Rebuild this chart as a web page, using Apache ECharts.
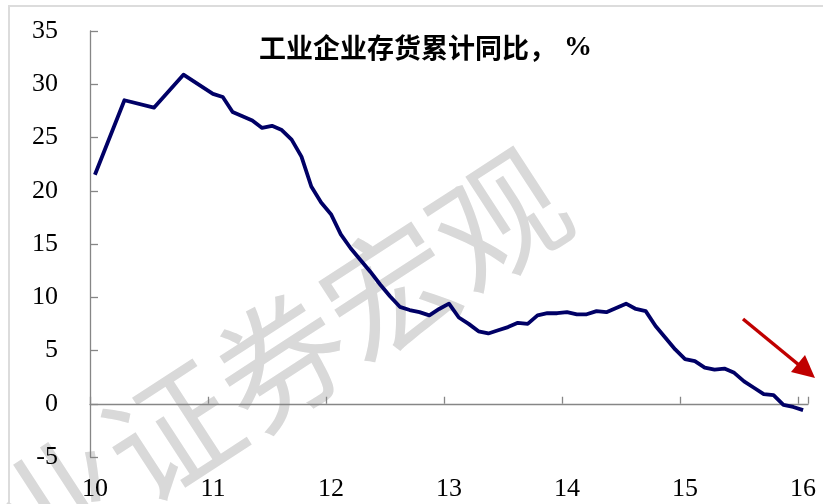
<!DOCTYPE html>
<html>
<head>
<meta charset="utf-8">
<script src="https://cdn.jsdelivr.net/npm/echarts@6/dist/echarts.min.js"></script>
<style>
  html, body { margin: 0; padding: 0; background: #fff; }
  #chart { width: 823px; height: 504px; }
</style>
</head>
<body>
<div id="chart"></div>
<script>
// 月份：2010-02 起，到 2016-02，共 73 个类目
var startYear = 2010, startMonth = 2, monthCount = 73;
var months = [];
for (var i = 0; i < monthCount; i++) {
  var m = startMonth - 1 + i;
  var y = startYear + Math.floor(m / 12);
  var mm = (m % 12) + 1;
  months.push(y + "-" + (mm < 10 ? "0" + mm : mm));
}

// 工业企业存货累计同比，%（2010 年只有 2、5、8、11 月）
var inventoryYoY = [
  21.5, null, null, 28.5, null, null, 27.8, null, null, 30.9, null, null,
  29.1, 28.8, 27.4, 27.0, 26.6, 25.9, 26.1, 25.7, 24.8, 23.2, 20.4, 18.9,
  17.8, 15.9, 14.6, 13.5, 12.4, 11.2, 10.1, 9.1, 8.8, 8.6, 8.3, 8.9,
  9.4, 8.1, 7.5, 6.8, 6.6, 6.9, 7.2, 7.6, 7.5, 8.3, 8.5, 8.5,
  8.6, 8.4, 8.4, 8.7, 8.6, 9.0, 9.4, 8.9, 8.7, 7.3, 6.2, 5.1,
  4.2, 4.0, 3.4, 3.2, 3.3, 2.9, 2.1, 1.5, 0.9, 0.8, -0.1, -0.3,
  -0.6
];

// y 轴刻度
var yMin = -5, yMax = 35, yStep = 5;

var watermark = "兴业证券宏观";

var axisGray = "#868686";
var serif = "Liberation Serif";

var chart = echarts.init(document.getElementById("chart"));

var option = {
  animation: false,
  backgroundColor: "#fff",
  grid: { left: 90, right: 15, top: 31, bottom: 47 },
  title: {
    text: "{a|工业企业存货累计同比，}{b|%}",
    left: 254,
    top: 29,
    textStyle: {
      rich: {
        a: {
          fontFamily: "Noto Sans CJK SC",
          fontSize: 27,
          fontWeight: "bold",
          color: "#000"
        },
        b: {
          fontFamily: serif,
          fontSize: 28,
          fontWeight: "bold",
          color: "#000",
          padding: [0, 0, 0, 8]
        }
      }
    }
  },
  xAxis: [
    {
      // 底部年份标签
      type: "category",
      data: months,
      boundaryGap: true,
      position: "bottom",
      axisLine: { show: false, onZero: false },
      axisTick: { show: false },
      axisLabel: {
        interval: 11,
        margin: 19,
        fontFamily: serif,
        fontSize: 26,
        color: "#000",
        formatter: function (v) { return v.slice(2, 4); }
      },
      splitLine: { show: false }
    },
    {
      // 零轴线与刻度
      type: "category",
      data: months,
      boundaryGap: true,
      position: "bottom",
      axisLine: { show: true, onZero: true, lineStyle: { color: axisGray, width: 1.3 } },
      axisTick: { show: true, inside: true, interval: 11, length: 7, lineStyle: { color: axisGray, width: 1.3 } },
      axisLabel: { show: false },
      splitLine: { show: false }
    }
  ],
  yAxis: {
    type: "value",
    min: yMin,
    max: yMax,
    interval: yStep,
    axisLine: { show: true, lineStyle: { color: axisGray, width: 1.3 } },
    axisTick: { show: true, inside: true, length: 8, lineStyle: { color: axisGray, width: 1.3 } },
    axisLabel: { margin: 32, fontFamily: serif, fontSize: 26, color: "#000" },
    splitLine: { show: false }
  },
  series: [
    {
      type: "line",
      data: inventoryYoY,
      xAxisIndex: 0,
      connectNulls: true,
      showSymbol: false,
      symbol: "none",
      z: 5,
      lineStyle: { color: "#000066", width: 3.8, join: "round" }
    }
  ],
  graphic: [
    // 外框（浅灰）
    {
      type: "polyline",
      silent: true,
      z: -10,
      shape: { points: [[9, 504], [9, 6], [823, 6]] },
      style: { stroke: "#dcdcdc", lineWidth: 2, fill: null }
    },
    // 水印
    {
      type: "text",
      silent: true,
      z: -5,
      x: 226,
      y: 396,
      rotation: 33 * Math.PI / 180,
      style: {
        text: watermark,
        fill: "#d9d9d9",
        fontSize: 130,
        fontFamily: "Noto Sans CJK SC",
        fontWeight: "normal",
        align: "center",
        verticalAlign: "middle"
      }
    },
    // 红色下行箭头
    {
      type: "line",
      silent: true,
      z: 10,
      shape: { x1: 743, y1: 319, x2: 799, y2: 365 },
      style: { stroke: "#c00000", lineWidth: 3.5 }
    },
    {
      type: "polygon",
      silent: true,
      z: 10,
      shape: { points: [[815, 378], [791, 372], [805, 355]] },
      style: { fill: "#c00000" }
    }
  ]
};

chart.setOption(option);
</script>
</body>
</html>
